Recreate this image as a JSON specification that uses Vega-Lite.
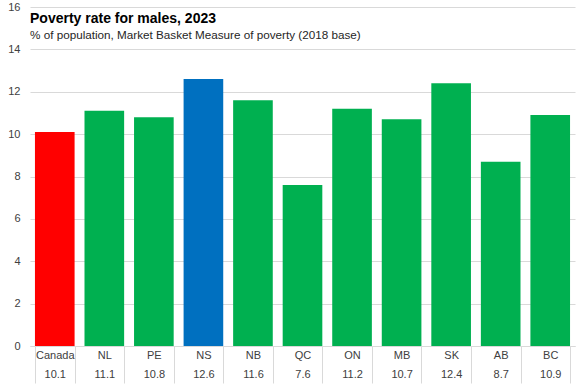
{
  "$schema": "https://vega.github.io/schema/vega-lite/v6.json",
  "width": 545,
  "height": 339,
  "autosize": {"type": "none"},
  "padding": {"left": 30, "top": 7, "right": 2, "bottom": 39},
  "background": "white",
  "title": {
    "text": "Poverty rate for males, 2023",
    "subtitle": "% of population, Market Basket Measure of poverty (2018 base)",
    "anchor": "start",
    "frame": "group",
    "offset": -41,
    "font": "Liberation Sans",
    "fontSize": 14,
    "fontWeight": "bold",
    "color": "#000000",
    "subtitleFont": "Liberation Sans",
    "subtitleFontSize": 11.7,
    "subtitleColor": "#262626",
    "subtitlePadding": 4
  },
  "data": {
    "values": [
      {"region": "Canada", "value": 10.1, "label": "Canada|10.1", "group": "Canada"},
      {"region": "NL", "value": 11.1, "label": "NL|11.1", "group": "Other"},
      {"region": "PE", "value": 10.8, "label": "PE|10.8", "group": "Other"},
      {"region": "NS", "value": 12.6, "label": "NS|12.6", "group": "NS"},
      {"region": "NB", "value": 11.6, "label": "NB|11.6", "group": "Other"},
      {"region": "QC", "value": 7.6, "label": "QC|7.6", "group": "Other"},
      {"region": "ON", "value": 11.2, "label": "ON|11.2", "group": "Other"},
      {"region": "MB", "value": 10.7, "label": "MB|10.7", "group": "Other"},
      {"region": "SK", "value": 12.4, "label": "SK|12.4", "group": "Other"},
      {"region": "AB", "value": 8.7, "label": "AB|8.7", "group": "Other"},
      {"region": "BC", "value": 10.9, "label": "BC|10.9", "group": "Other"}
    ]
  },
  "mark": {"type": "bar"},
  "encoding": {
    "x": {
      "field": "label",
      "type": "nominal",
      "sort": null,
      "scale": {"paddingInner": 0.2, "paddingOuter": 0.1},
      "axis": {
        "title": null,
        "labelAngle": 0,
        "labelExpr": "split(datum.label, '|')",
        "labelFont": "Liberation Sans",
        "labelFontSize": 11,
        "labelColor": "#404040",
        "labelBaseline": "top",
        "labelLineHeight": 19,
        "labelPadding": -34,
        "ticks": true,
        "tickBand": "extent",
        "tickSize": 37,
        "tickColor": "#d9d9d9",
        "domain": true,
        "domainColor": "#d9d9d9",
        "grid": false
      }
    },
    "y": {
      "field": "value",
      "type": "quantitative",
      "scale": {"domain": [0, 16]},
      "axis": {
        "title": null,
        "values": [0, 2, 4, 6, 8, 10, 12, 14, 16],
        "labelFont": "Liberation Sans",
        "labelFontSize": 11,
        "labelColor": "#404040",
        "labelPadding": 10,
        "ticks": false,
        "domain": false,
        "grid": true,
        "gridColor": "#d9d9d9"
      }
    },
    "color": {
      "field": "group",
      "type": "nominal",
      "scale": {"domain": ["Canada", "NS", "Other"], "range": ["#ff0000", "#0070c0", "#00b050"]},
      "legend": null
    }
  },
  "config": {"view": {"stroke": null}}
}
